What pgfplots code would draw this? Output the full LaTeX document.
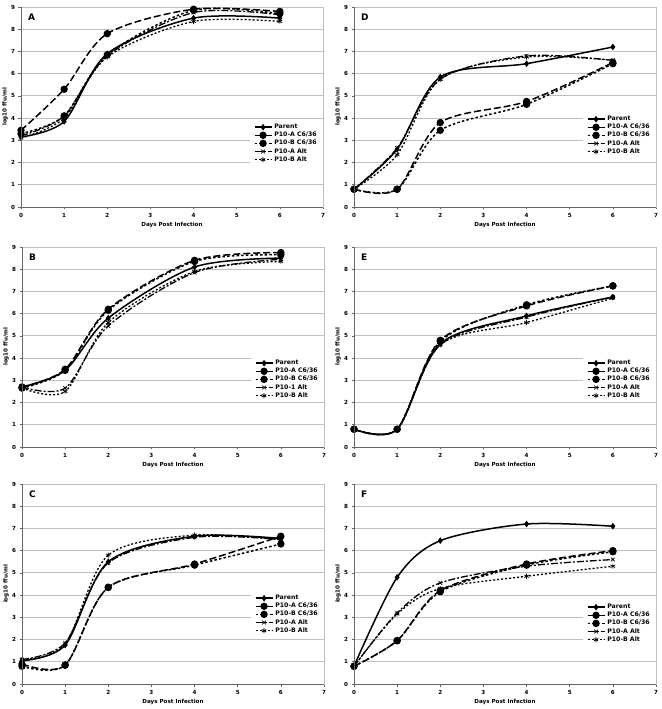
\documentclass[border=0pt]{standalone}
\usepackage{pgfplots}
\pgfplotsset{compat=1.18}
\usepackage{fontspec}
\setmainfont{DejaVu Sans}
\newcommand{\sm}{\fontsize{5.6}{6}\selectfont\bfseries}
\newcommand{\legfont}{\fontsize{6.2}{6.6}\selectfont\bfseries}
\pgfplotsset{
 panel/.style={
  width=302pt, height=200pt, scale only axis,
  xmin=0,xmax=7,ymin=0,ymax=9,
  xtick={0,...,7}, ytick={0,...,9},
  ymajorgrids, grid style={gray!50, line width=0.9pt},
  axis line style={gray!50, line width=0.9pt},
  tick align=outside, major tick length=2.5pt, tick style={gray!80!black, line width=0.7pt},
  xtick pos=left, ytick pos=left,
  tick label style={font=\sm},
  /pgf/number format/assume math mode=true,
  label style={font=\sm},
  xlabel={Days Post Infection}, ylabel={log10 ffu/ml},
  xlabel style={at={(axis description cs:0.5,-0.09)},anchor=center},
  ylabel style={at={(axis description cs:-0.053,0.5)},anchor=center},
  clip=false,
  legend style={at={(1,0.43)}, anchor=north east, draw=none, fill=white, font=\legfont,
     inner xsep=4pt, inner ysep=1pt, row sep=-2pt, cells={anchor=west}},
  legend cell align=left,
  after end axis/.code={\draw[gray!80!black, line width=0.8pt] (rel axis cs:0,1) -- (rel axis cs:0,0) -- (rel axis cs:1,0);}
 },
 sP/.style={black, line width=1.5pt, smooth, mark=diamond*, mark size=2.1pt, mark options={solid}},
 sAC/.style={black, line width=1.5pt, smooth, dash pattern=on 7pt off 3pt, mark=*, mark size=2.9pt, mark options={solid}},
 sBC/.style={black, line width=1.5pt, smooth, dash pattern=on 2.5pt off 2.2pt, mark=*, mark size=2.9pt, mark options={solid}},
 sAA/.style={black, line width=1.3pt, smooth, dash pattern=on 7pt off 2pt on 2pt off 2pt, mark=x, mark size=2.6pt, mark options={solid, line width=0.7pt}},
 sBA/.style={black, line width=1.3pt, smooth, dash pattern=on 2pt off 2pt, mark=asterisk, mark size=2.6pt, mark options={solid, line width=0.7pt}},
}
\newcommand{\plabel}[1]{\node[anchor=west, font=\fontsize{9}{10}\selectfont\bfseries] at (rel axis cs:0.012,0.95) {#1};}
\begin{document}
\begin{tikzpicture}[x=1pt,y=1pt]
\useasboundingbox (0,0) rectangle (661,709);
% Panel A
\begin{axis}[panel, at={(21pt,502pt)}, anchor=south west]
\addplot[sP] coordinates {(0,3.15) (1,3.85) (2,6.9) (4,8.5) (6,8.5)};
\addplot[sAC] coordinates {(0,3.45) (1,5.3) (2,7.8) (4,8.9) (6,8.8)};
\addplot[sBC] coordinates {(0,3.3) (1,4.1) (2,6.85) (4,8.85) (6,8.7)};
\addplot[sAA] coordinates {(0,3.2) (1,4.1) (2,6.8) (4,8.75) (6,8.65)};
\addplot[sBA] coordinates {(0,3.1) (1,4.0) (2,6.75) (4,8.35) (6,8.35)};
\legend{Parent,P10-A C6/36,P10-B C6/36,P10-A Alt,P10-B Alt}
\plabel{A}
\end{axis}
% Panel B
\begin{axis}[panel, at={(22pt,262pt)}, anchor=south west, legend style={at={(1,0.45)}}]
\addplot[sP] coordinates {(0,2.7) (1,3.45) (2,5.8) (4,8.1) (6,8.5)};
\addplot[sAC] coordinates {(0,2.7) (1,3.5) (2,6.2) (4,8.4) (6,8.75)};
\addplot[sBC] coordinates {(0,2.65) (1,3.45) (2,6.15) (4,8.35) (6,8.65)};
\addplot[sAA] coordinates {(0,2.7) (1,2.65) (2,5.45) (4,7.85) (6,8.45)};
\addplot[sBA] coordinates {(0,2.65) (1,2.5) (2,5.6) (4,7.9) (6,8.35)};
\legend{Parent,P10-A C6/36,P10-B C6/36,P10-1 Alt,P10-B Alt}
\plabel{B}
\end{axis}
% Panel C
\begin{axis}[panel, at={(22pt,25pt)}, anchor=south west, legend style={at={(1,0.46)}}]
\addplot[sP] coordinates {(0,1.05) (1,1.75) (2,5.5) (4,6.65) (6,6.55)};
\addplot[sAC] coordinates {(0,0.9) (1,0.85) (2,4.35) (4,5.4) (6,6.65)};
\addplot[sBC] coordinates {(0,0.8) (1,0.85) (2,4.35) (4,5.35) (6,6.3)};
\addplot[sAA] coordinates {(0,1.1) (1,1.85) (2,5.45) (4,6.6) (6,6.5)};
\addplot[sBA] coordinates {(0,1.1) (1,1.8) (2,5.8) (4,6.7) (6,6.5)};
\legend{Parent,P10-A C6/36,P10-B C6/36,P10-A Alt,P10-B Alt}
\plabel{C}
\end{axis}
% Panel D
\begin{axis}[panel, at={(354pt,502pt)}, anchor=south west, legend style={at={(1,0.47)}}]
\addplot[sP] coordinates {(0,0.8) (1,2.6) (2,5.85) (4,6.45) (6,7.2)};
\addplot[sAC] coordinates {(0,0.8) (1,0.8) (2,3.8) (4,4.75) (6,6.5)};
\addplot[sBC] coordinates {(0,0.8) (1,0.8) (2,3.45) (4,4.62) (6,6.45)};
\addplot[sAA] coordinates {(0,0.8) (1,2.65) (2,5.75) (4,6.8) (6,6.6)};
\addplot[sBA] coordinates {(0,0.8) (1,2.35) (2,5.75) (4,6.75) (6,6.6)};
\legend{Parent,P10-A C6/36,P10-B C6/36,P10-A Alt,P10-B Alt}
\plabel{D}
\end{axis}
% Panel E
\begin{axis}[panel, at={(354pt,262pt)}, anchor=south west, legend style={at={(1,0.45)}}]
\addplot[sP] coordinates {(0,0.8) (1,0.8) (2,4.65) (4,5.9) (6,6.75)};
\addplot[sAC] coordinates {(0,0.8) (1,0.8) (2,4.8) (4,6.35) (6,7.25)};
\addplot[sBC] coordinates {(0,0.8) (1,0.8) (2,4.75) (4,6.4) (6,7.25)};
\addplot[sAA] coordinates {(0,0.8) (1,0.8) (2,4.6) (4,5.85) (6,6.75)};
\addplot[sBA] coordinates {(0,0.8) (1,0.8) (2,4.6) (4,5.6) (6,6.7)};
\legend{Parent,P10-A C6/36,P10-B C6/36,P10-A Alt,P10-B Alt}
\plabel{E}
\end{axis}
% Panel F
\begin{axis}[panel, at={(354pt,25pt)}, anchor=south west, legend style={at={(1,0.415)}}]
\addplot[sP] coordinates {(0,0.8) (1,4.8) (2,6.45) (4,7.2) (6,7.1)};
\addplot[sAC] coordinates {(0,0.8) (1,1.95) (2,4.2) (4,5.4) (6,6.0)};
\addplot[sBC] coordinates {(0,0.8) (1,1.95) (2,4.15) (4,5.35) (6,5.95)};
\addplot[sAA] coordinates {(0,0.8) (1,3.2) (2,4.55) (4,5.3) (6,5.6)};
\addplot[sBA] coordinates {(0,0.8) (1,3.15) (2,4.3) (4,4.85) (6,5.3)};
\legend{Parent,P10-A C6/36,P10-B C6/36,P10-A Alt,P10-B Alt}
\plabel{F}
\end{axis}
\end{tikzpicture}
\end{document}
